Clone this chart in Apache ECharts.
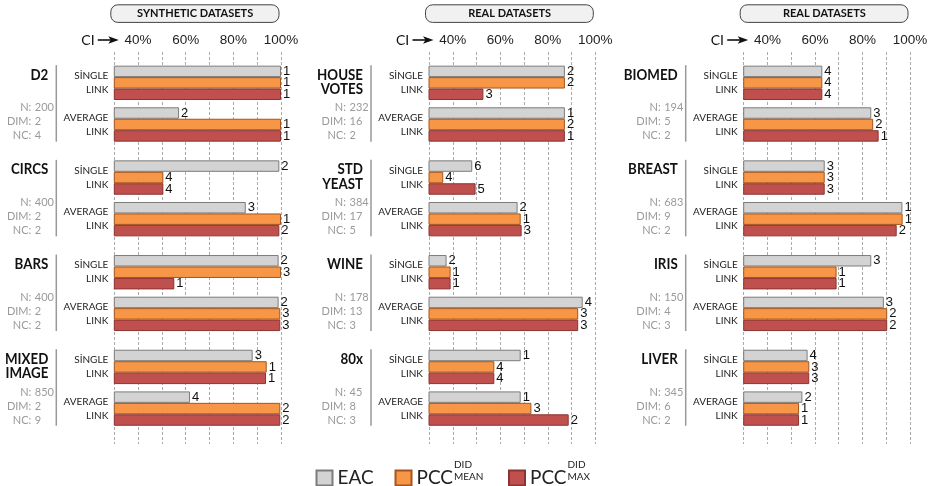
<!DOCTYPE html>
<html><head><meta charset="utf-8">
<script src="https://cdn.jsdelivr.net/npm/echarts@6/dist/echarts.min.js"></script>
<style>html,body{margin:0;padding:0;background:#fff}#c{width:931px;height:486px}</style>
</head><body><div id="c"></div>
<script>
// ---------- data ----------
const panelTitles = ['SYNTHETIC DATASETS', 'REAL DATASETS', 'REAL DATASETS'];
const datasetNames = ['D2', 'CIRCS', 'BARS', 'MIXED\nIMAGE', 'HOUSE\nVOTES', 'STD\nYEAST', 'WINE', '80x', 'BIOMED', 'BREAST', 'IRIS', 'LIVER'];
const sampleN = [200, 400, 400, 850, 232, 384, 178, 45, 194, 683, 150, 345];
const dims = [2, 2, 2, 2, 16, 17, 13, 8, 5, 9, 4, 6];
const nClusters = [4, 2, 2, 9, 2, 5, 3, 3, 2, 2, 3, 2];
const linkages = ['SİNGLE\nLINK', 'AVERAGE\nLINK'];
const tickLabels = [40, 60, 80, 100];
const seriesNames = ['EAC', 'PCC-DID-MEAN', 'PCC-DID-MAX'];
// CI values (%) per dataset: [single link, average link]
const eac = [[100, 57.2], [99.3, 85.2], [99.0, 99.0], [88.1, 61.8], [87.2, 87.2], [48.2, 67.3], [37.4, 94.7], [68.6, 68.6], [63.1, 83.7], [64.1, 96.8], [83.7, 89.0], [56.9, 54.7]];
const pccMean = [[100, 100], [50.6, 100], [100, 99.7], [94.0, 99.7], [87.2, 87.2], [36.0, 68.6], [39.1, 92.8], [57.5, 73.1], [63.1, 84.5], [64.1, 96.9], [69.1, 90.4], [57.6, 53.3]];
const pccMax = [[100, 100], [50.6, 99.3], [55.2, 99.7], [93.7, 99.7], [52.9, 87.2], [49.6, 69.0], [39.1, 92.8], [57.5, 88.8], [63.1, 86.8], [64.1, 94.4], [69.1, 90.4], [57.6, 53.3]];
// rank labels
const eacRank = [[1, 2], [2, 3], [2, 2], [3, 4], [2, 1], [6, 2], [2, 4], [1, 1], [4, 3], [3, 1], [3, 3], [4, 2]];
const meanRank = [[1, 1], [4, 1], [3, 3], [1, 2], [2, 2], [4, 1], [1, 3], [4, 3], [4, 2], [3, 1], [1, 2], [3, 1]];
const maxRank = [[1, 1], [4, 2], [1, 3], [1, 2], [3, 1], [5, 3], [1, 3], [4, 2], [4, 1], [3, 2], [1, 2], [3, 1]];

// ---------- layout ----------
const W = 931, H = 486;
const panelX0 = [114.3, 429, 743.7];
const panelX1 = [281, 595.3, 910];
const blockTop0 = 62, blockStep = 94.7, blockH = 83.3, barInset = 3.65;
const fills = ['#d3d3d3', '#f79646', '#c0504d'];
const borders = ['#7c7c7c', '#a4561c', '#8c3432'];
const valueSets = [eac, pccMean, pccMax];
const rankSets = [eacRank, meanRank, maxRank];
const geo = 'Lato, "Open Sans", sans-serif';
const arial = '"Liberation Sans", Arial, sans-serif';

const grids = [], xAxes = [], yAxes = [], series = [], graphics = [];
let g = 0;
for (let p = 0; p < 3; p++) {
  const x0 = panelX0[p], x1 = panelX1[p];
  // background grid with ticks
  grids.push({ left: x0, right: W - x1, top: 52, bottom: 42 });
  xAxes.push({ gridIndex: g, type: 'value', position: 'top', min: 30, max: 100, interval: 10,
    axisLine: { show: false }, axisTick: { show: false },
    axisLabel: { formatter: v => tickLabels.includes(v) ? v + '%' : '', fontSize: 13.5, color: '#222', margin: 5, fontFamily: arial },
    splitLine: { show: true, lineStyle: { type: [3, 2], color: '#aaaaaa', width: 1 } } });
  yAxes.push({ gridIndex: g, type: 'value', show: false, min: 0, max: 1 });
  g++;
  // header
  graphics.push({ type: 'rect', shape: { x: x0 - 3.5, y: 4.8, width: x1 - x0 + 1.5, height: 17.6, r: 7 },
    style: { fill: '#f1f1f1', stroke: '#444', lineWidth: 1 } });
  graphics.push({ type: 'text', x: (x0 + x1) / 2 - 2.5, y: 13.8,
    style: { text: panelTitles[p], fontSize: 11, fontWeight: 'bold', fontFamily: geo, fill: '#111', align: 'center', verticalAlign: 'middle' } });
  // CI arrow
  graphics.push({ type: 'text', x: x0 - 33, y: 40.5,
    style: { text: 'CI', fontSize: 14, fontFamily: geo, fill: '#111', align: 'left', verticalAlign: 'middle' } });
  graphics.push({ type: 'line', shape: { x1: x0 - 16.5, y1: 40, x2: x0 - 2, y2: 40 }, style: { stroke: '#111', lineWidth: 1.6 } });
  graphics.push({ type: 'polygon', shape: { points: [[x0 + 4.5, 40], [x0 - 6, 36.2], [x0 - 3.5, 40], [x0 - 6, 43.8]] }, style: { fill: '#111' } });

  for (let b = 0; b < 4; b++) {
    const d = p * 4 + b;
    const top = blockTop0 + b * blockStep;
    grids.push({ left: x0, right: W - x1, top: top, height: blockH });
    xAxes.push({ gridIndex: g, type: 'value', min: 30, max: 100, show: false, splitLine: { show: false } });
    yAxes.push({ gridIndex: g, type: 'category', data: linkages, inverse: true,
      axisLine: { show: false }, axisTick: { show: false }, splitLine: { show: false },
      axisLabel: { align: 'right', margin: 6, fontSize: 10, lineHeight: 14, color: '#222', fontFamily: geo } });
    for (let s = 0; s < 3; s++) {
      const ranks = rankSets[s][d];
      series.push({
        type: 'bar', name: seriesNames[s], xAxisIndex: g, yAxisIndex: g,
        data: valueSets[s][d], barGap: '0%', barCategoryGap: '17.5%',
        itemStyle: { color: fills[s], borderColor: borders[s], borderWidth: 1 },
        label: { show: true, position: 'right', distance: 2, fontSize: 13, color: '#111', fontFamily: arial,
          formatter: (pp) => String(ranks[pp.dataIndex]) },
        emphasis: { disabled: true }, animation: false
      });
    }
    g++;
    // separator line + texts
    const barsTop = top + barInset, barsBot = top + blockH - barInset;
    const lx = x0 - 58;
    graphics.push({ type: 'line', shape: { x1: lx, y1: barsTop - 0.5, x2: lx, y2: barsBot }, style: { stroke: '#999', lineWidth: 1.5 } });
    graphics.push({ type: 'text', x: lx - 8, y: barsTop + 1.8, scaleX: 0.86,
      style: { text: datasetNames[d], fontSize: 15.5, fontWeight: 'bold', fontFamily: geo, fill: '#111', align: 'right', verticalAlign: 'top', lineHeight: 14.5 } });
    const infoLab = ['N:', 'DIM:', 'NC:'];
    const infoVal = [sampleN[d], dims[d], nClusters[d]];
    for (let k = 0; k < 3; k++) {
      const yy = barsTop + 42.3 + k * 14;
      graphics.push({ type: 'text', x: lx - 25, y: yy,
        style: { text: infoLab[k], fontSize: 11, fontFamily: geo, fill: '#9a9a9a', align: 'right', verticalAlign: 'middle' } });
      graphics.push({ type: 'text', x: lx - 21.5, y: yy,
        style: { text: String(infoVal[k]), fontSize: 11, fontFamily: geo, fill: '#9a9a9a', align: 'left', verticalAlign: 'middle' } });
    }
  }
}

// legend sub/superscripts
const scr = (t, x, y) => ({ type: 'text', x: x, y: y, style: { text: t, fontSize: 10, fontFamily: geo, fill: '#222', align: 'left', verticalAlign: 'middle' } });
graphics.push(scr('DID', 454, 465), scr('MEAN', 454, 476.5), scr('DID', 567.5, 465), scr('MAX', 567.5, 476.5));

const legendBase = { orient: 'horizontal', itemWidth: 16, itemHeight: 15, itemGap: 10, top: 463.5, icon: 'rect',
  textStyle: { fontSize: 19, fontFamily: geo, color: '#222' },
  formatter: n => n === 'EAC' ? 'EAC' : 'PCC', selectedMode: false };

const option = {
  animation: false,
  grid: grids, xAxis: xAxes, yAxis: yAxes, series: series,
  legend: [
    Object.assign({}, legendBase, { left: 310.5, data: ['EAC'] }),
    Object.assign({}, legendBase, { left: 389.5, data: ['PCC-DID-MEAN'] }),
    Object.assign({}, legendBase, { left: 503, data: ['PCC-DID-MAX'] })
  ],
  graphic: graphics
};
const chart = echarts.init(document.getElementById('c'), null, { renderer: 'canvas' });
chart.setOption(option);
</script></body></html>
